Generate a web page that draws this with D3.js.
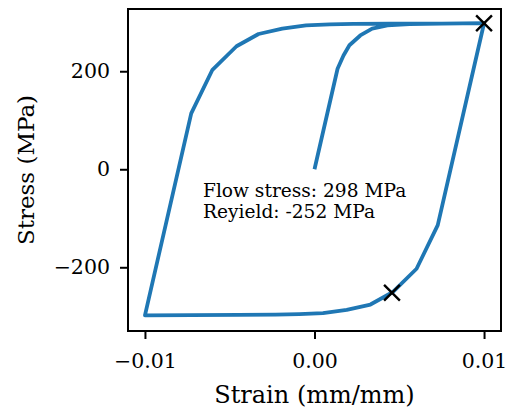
<!DOCTYPE html>
<meta charset="utf-8">
<style>
  body { margin: 0; background: #fff; }
  text { font-family: "DejaVu Serif", "Liberation Serif", serif; fill: #000; }
  .axis .domain { display: none; }
  .axis line { stroke: #000; stroke-width: 2px; }
</style>
<body>
<script src="https://d3js.org/d3.v7.min.js"></script>
<script>
  // initial loading from zero
  var loadStrain = [0, 0.00136, 0.00171, 0.00206, 0.0027, 0.0034, 0.0043, 0.0056, 0.0075, 0.01];
  var loadStress = [0, 205, 232, 253, 273, 287, 293.5, 296, 297, 298];
  // unloading to compression
  var unloadStrain = [0.00727, 0.00602, 0.00460, 0.0033, 0.0019, 0.0005, -0.0009, -0.0023, -0.0045, -0.01];
  var unloadStress = [-114, -203, -251, -276, -287, -293.5, -295.5, -296.5, -297.3, -298];
  // reloading to tension
  var reloadStrain = [-0.00727, -0.00602, -0.00460, -0.0033, -0.0019, -0.0005, 0.0009, 0.0023, 0.0045, 0.01];
  var reloadStress = [114, 203, 251, 276, 287, 293.5, 295.5, 296.5, 297.3, 298];

  var markStrain = [0.01, 0.00457];
  var markStress = [298, -252];

  var xTicks = [-0.01, 0, 0.01];
  var xTickLabels = ["\u22120.01", "0.00", "0.01"];
  var yTicks = [-200, 0, 200];
  var yTickLabels = ["\u2212200", "0", "200"];

  var noteLines = ["Flow stress: 298 MPa", "Reyield: -252 MPa"];

  var margin = { top: 9, right: 8, bottom: 84, left: 128 },
    width = 509 - margin.left - margin.right,
    height = 415 - margin.top - margin.bottom;

  var x = d3.scaleLinear().domain([-0.011, 0.011]).range([0, width]);
  var y = d3.scaleLinear().domain([-330, 327]).range([height, 0]);

  var svg = d3.select("body").append("svg")
    .attr("width", 509)
    .attr("height", 415)
    .append("g")
    .attr("transform", "translate(" + margin.left + "," + margin.top + ")");

  var pts = [];
  loadStrain.forEach(function (s, i) { pts.push([s, loadStress[i]]); });
  unloadStrain.forEach(function (s, i) { pts.push([s, unloadStress[i]]); });
  reloadStrain.forEach(function (s, i) { pts.push([s, reloadStress[i]]); });

  var line = d3.line()
    .x(function (d) { return x(d[0]); })
    .y(function (d) { return y(d[1]); });

  svg.append("path")
    .datum(pts)
    .attr("fill", "none")
    .attr("stroke", "#1f77b4")
    .attr("stroke-width", 3.8)
    .attr("stroke-linejoin", "round")
    .attr("d", line);

  svg.selectAll(".mark")
    .data(markStrain)
    .enter()
    .append("path")
    .attr("class", "mark")
    .attr("transform", function (d, i) {
      return "translate(" + x(d) + "," + y(markStress[i]) + ")";
    })
    .attr("d", d3.symbol().type(d3.symbolX).size(165))
    .attr("fill", "none")
    .attr("stroke", "#000")
    .attr("stroke-width", 2.4);

  var xAxis = svg.append("g")
    .attr("class", "axis")
    .attr("transform", "translate(0," + height + ")")
    .call(d3.axisBottom(x).tickValues(xTicks)
      .tickFormat(function (d, i) { return xTickLabels[i]; })
      .tickSize(8).tickPadding(14));
  xAxis.selectAll("text").style("font-size", "20.5px");

  var yAxis = svg.append("g")
    .attr("class", "axis")
    .call(d3.axisLeft(y).tickValues(yTicks)
      .tickFormat(function (d, i) { return yTickLabels[i]; })
      .tickSize(8).tickPadding(10));
  yAxis.selectAll("text").style("font-size", "20.5px");

  svg.append("rect")
    .attr("width", width)
    .attr("height", height)
    .attr("fill", "none")
    .attr("stroke", "#000")
    .attr("stroke-width", 2);

  svg.append("text")
    .attr("x", width / 2)
    .attr("y", height + 72)
    .attr("text-anchor", "middle")
    .style("font-size", "24px")
    .text("Strain (mm/mm)");

  svg.append("text")
    .attr("transform", "translate(" + (34 - margin.left) + "," + (height / 2) + ") rotate(-90)")
    .attr("text-anchor", "middle")
    .style("font-size", "23px")
    .text("Stress (MPa)");

  svg.selectAll(".note")
    .data(noteLines)
    .enter()
    .append("text")
    .attr("class", "note")
    .attr("x", 203 - margin.left)
    .attr("y", function (d, i) { return 197 - margin.top + i * 20.5; })
    .style("font-size", "18.6px")
    .text(function (d) { return d; });
</script>
</body>
